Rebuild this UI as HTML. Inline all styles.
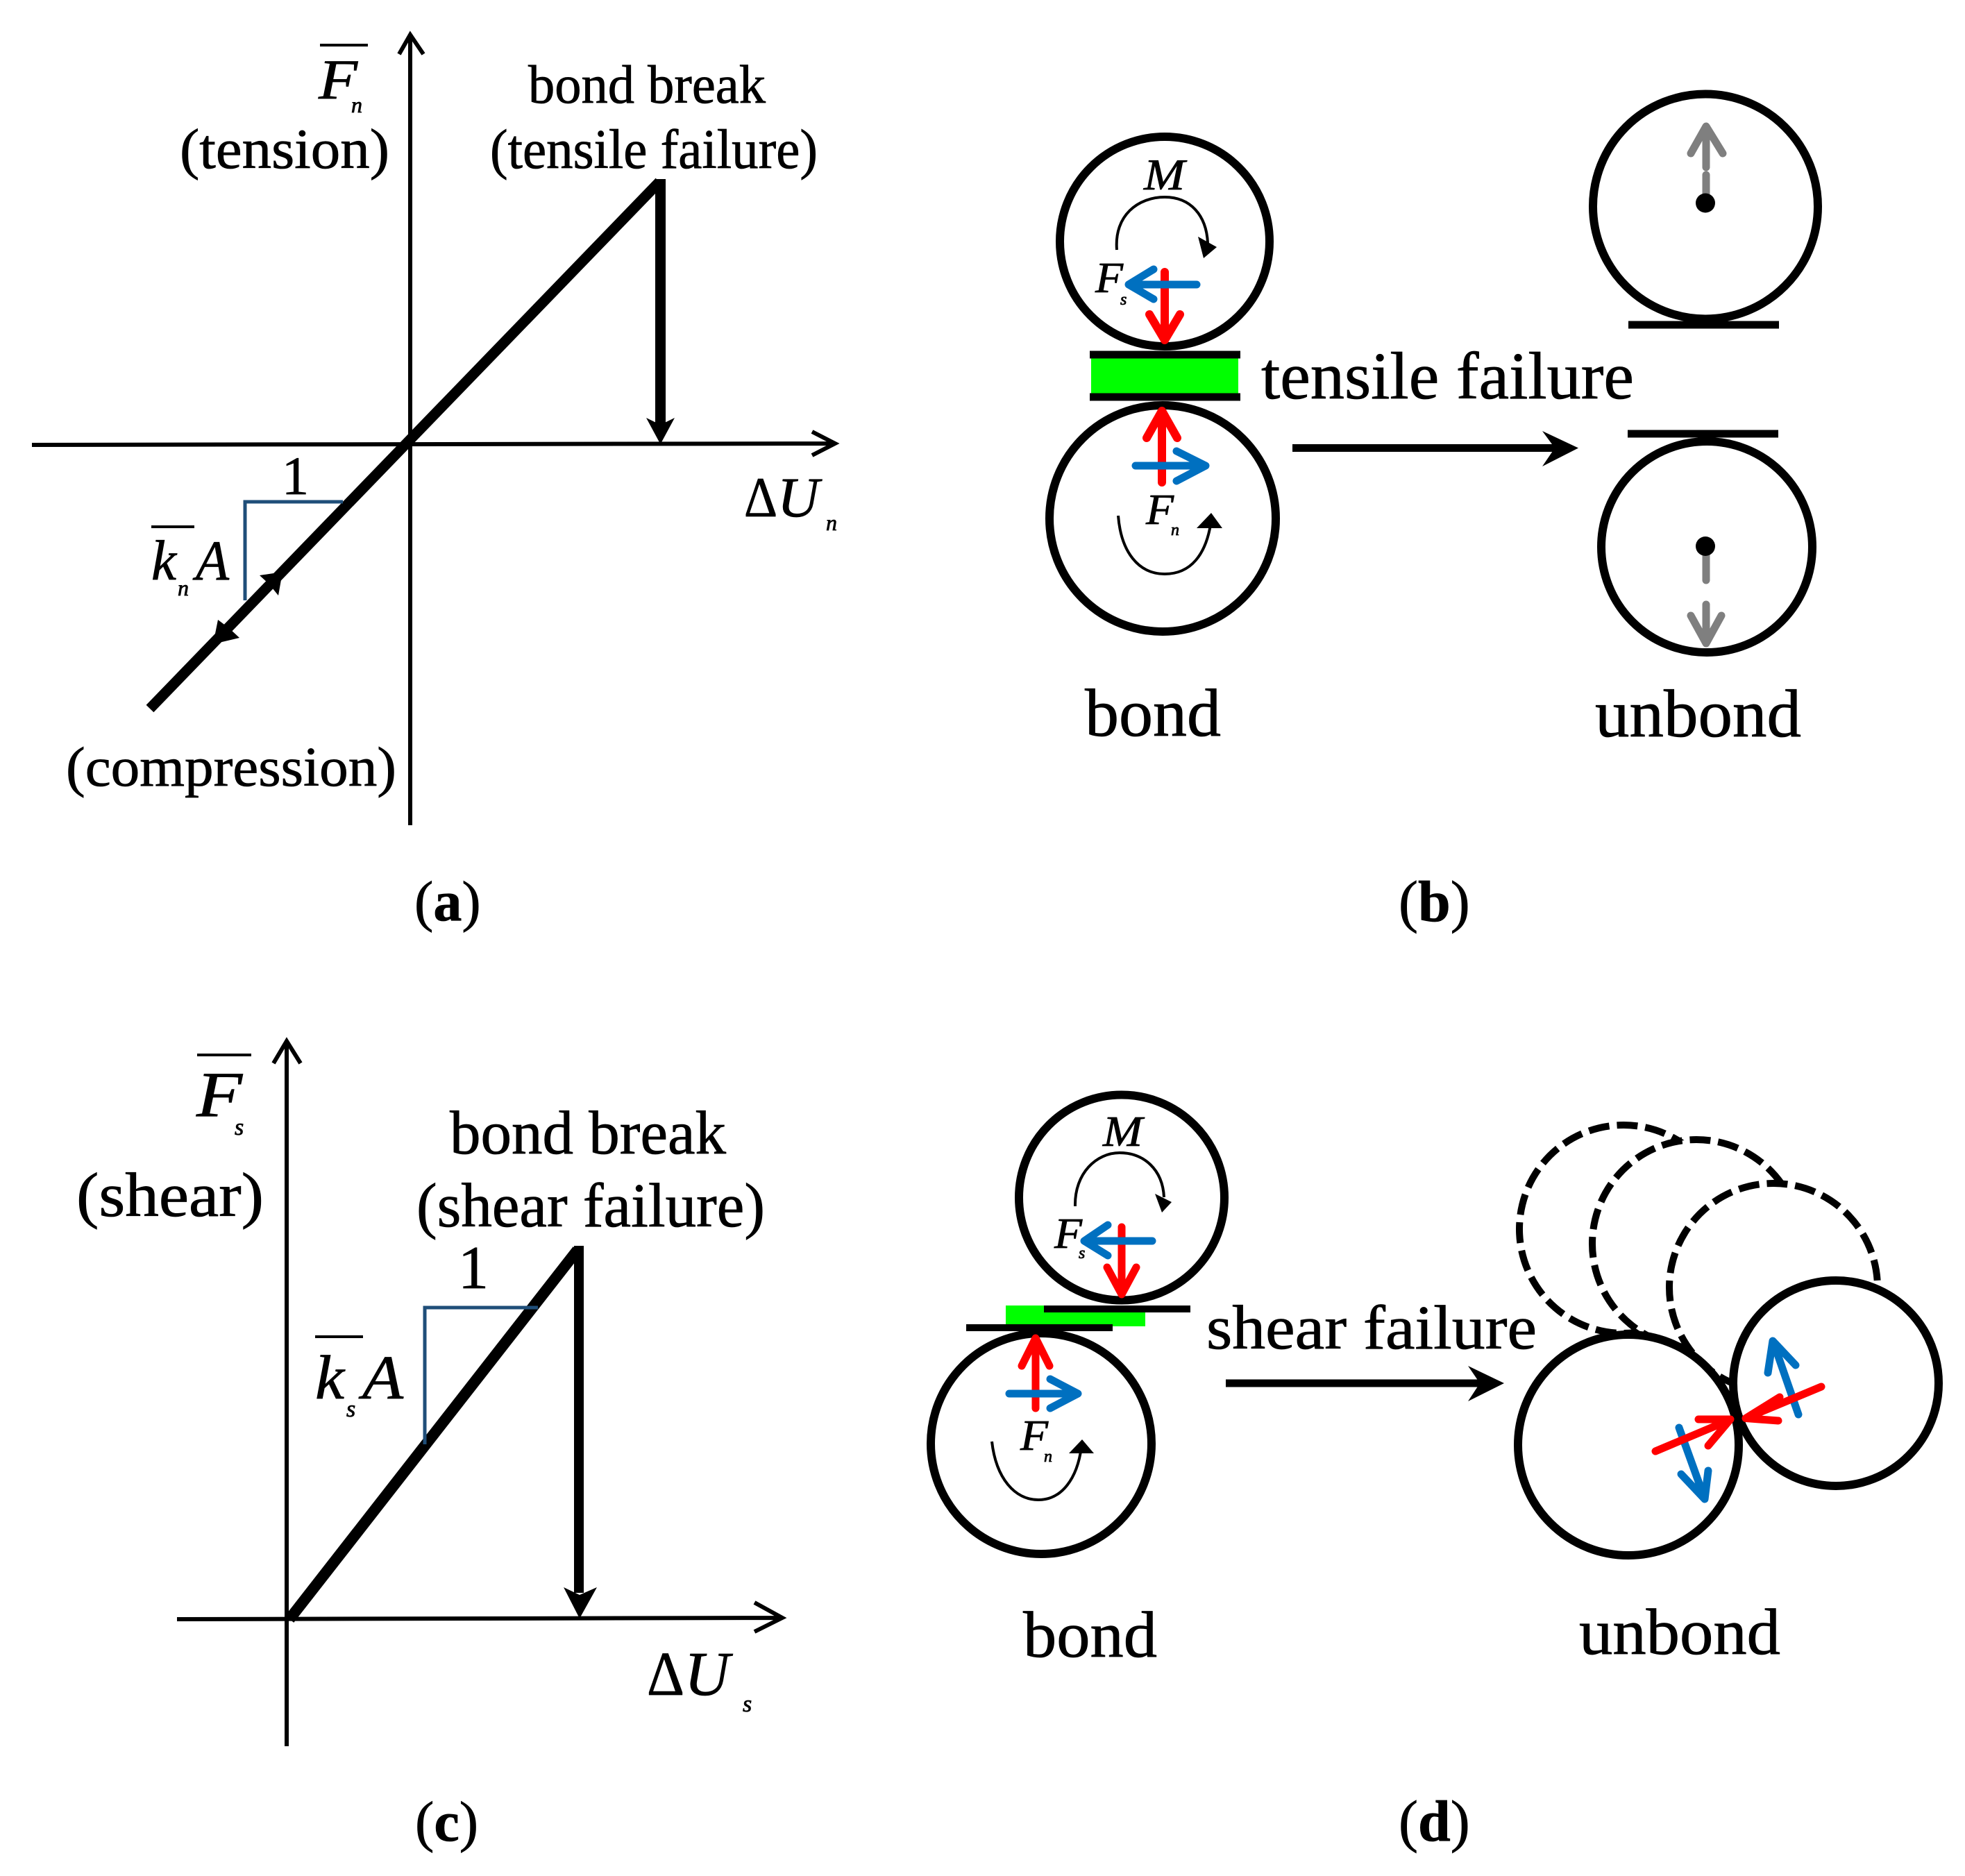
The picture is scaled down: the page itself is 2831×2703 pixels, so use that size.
<!DOCTYPE html>
<html><head><meta charset="utf-8"><style>
html,body{margin:0;padding:0;background:#fff}
svg{display:block}
text{font-family:"Liberation Serif",serif;fill:#000;stroke:#000;stroke-width:.8}
.i{font-style:italic}
</style></head><body>
<svg xmlns="http://www.w3.org/2000/svg" width="2831" height="2703" viewBox="0 0 2831 2703">
<rect width="2831" height="2703" fill="#fff"/>
<!-- (a) -->
<g fill="none" stroke="#000">
<path d="M591 1189V50M575 78L591 50L610 78" stroke-width="6"/>
<path d="M46 641L1202 639M1170 622L1203 639L1170 656" stroke-width="6"/>
<path d="M216 1021L950 262" stroke-width="15"/>
<path d="M951.5 258V615" stroke-width="15"/>
<path d="M353 865V723H494" stroke="#1f4e79" stroke-width="5"/>
</g>
<polygon points="951.5,640 931,602 951.5,612 972,602"/>
<polygon points="407,824 374,829 388,842 401,858"/>
<polygon points="307,928 314,893 330,905 345,919"/>
<path d="M461 65H530M218 759H280" stroke="#000" stroke-width="4"/>
<text class="i" x="459" y="142" font-size="82" textLength="56" lengthAdjust="spacingAndGlyphs">F</text>
<text class="i" x="506" y="162" font-size="32">n</text>
<text x="259" y="242" font-size="82" textLength="302" lengthAdjust="spacingAndGlyphs">(tension)</text>
<text x="761" y="148" font-size="78" textLength="342" lengthAdjust="spacingAndGlyphs">bond break</text>
<text x="706" y="242" font-size="80" textLength="472" lengthAdjust="spacingAndGlyphs">(tensile failure)</text>
<text x="95" y="1132" font-size="80" textLength="476" lengthAdjust="spacingAndGlyphs">(compression)</text>
<text x="406" y="712" font-size="78">1</text>
<text x="1072" y="744" font-size="82" textLength="48" lengthAdjust="spacingAndGlyphs">Δ</text>
<text class="i" x="1120" y="744" font-size="82" textLength="60" lengthAdjust="spacingAndGlyphs">U</text>
<text class="i" x="1190" y="764" font-size="32">n</text>
<text class="i" x="218" y="835" font-size="82" textLength="36" lengthAdjust="spacingAndGlyphs">k</text>
<text class="i" x="256" y="858" font-size="32">n</text>
<text class="i" x="282" y="835" font-size="82" textLength="48" lengthAdjust="spacingAndGlyphs">A</text>
<text x="597" y="1326" font-size="82">(<tspan font-weight="bold">a</tspan>)</text>

<!-- (b) -->
<g fill="none" stroke="#000" stroke-width="12">
<circle cx="1678" cy="348" r="151"/>
<circle cx="1675" cy="747" r="163"/>
<circle cx="2457" cy="297.5" r="162"/>
<circle cx="2459" cy="788" r="152"/>
</g>
<rect x="1572" y="515" width="212" height="53" fill="#00ff00"/>
<path d="M1570 511H1787M1570 572H1787M2346 468H2563M2345 625H2562" stroke="#000" stroke-width="11" fill="none"/>
<text x="1817" y="574" font-size="96" textLength="537" lengthAdjust="spacingAndGlyphs">tensile failure</text>
<text class="i" x="1648" y="273" font-size="64" textLength="59" lengthAdjust="spacingAndGlyphs">M</text>
<text class="i" x="1578" y="421" font-size="62" textLength="40" lengthAdjust="spacingAndGlyphs">F</text>
<text class="i" x="1614" y="439" font-size="24">s</text>
<text class="i" x="1651" y="755" font-size="62" textLength="40" lengthAdjust="spacingAndGlyphs">F</text>
<text class="i" x="1687" y="771" font-size="24">n</text>
<path d="M1609 360C1605 310 1640 284 1678 284C1715 284 1738 310 1740 350" fill="none" stroke="#000" stroke-width="4"/>
<polygon points="1726,341 1753,356 1734,372"/>
<path d="M1611 743C1615 795 1640 827 1678 827C1715 827 1738 800 1745 750" fill="none" stroke="#000" stroke-width="4"/>
<polygon points="1724,761 1761,761 1745,739"/>
<g fill="none" stroke-linecap="round" stroke-linejoin="round">
<path d="M1678 392V488M1656 453L1678 490L1700 453" stroke="#f00" stroke-width="12"/>
<path d="M1674 695V595M1652 631L1674 592L1696 631" stroke="#f00" stroke-width="12"/>
<path d="M1724 410H1628M1662 388L1626 410L1662 431" stroke="#0070c0" stroke-width="11"/>
<path d="M1636 671H1733M1695 650L1737 671L1695 693" stroke="#0070c0" stroke-width="11"/>
<path d="M2458 280V252M2458 241V186M2436 221L2458 182L2482 221" stroke="#7f7f7f" stroke-width="11"/>
<path d="M2458 795V836M2458 871V927M2436 887L2458 927L2480 887" stroke="#7f7f7f" stroke-width="11"/>
</g>
<circle cx="2457" cy="292.5" r="14"/>
<circle cx="2457" cy="787" r="14"/>
<path d="M1862 645.5H2245" stroke="#000" stroke-width="11"/>
<polygon points="2274,645.5 2222,621 2240,645.5 2222,672"/>
<text x="1563" y="1060" font-size="98" textLength="196" lengthAdjust="spacingAndGlyphs">bond</text>
<text x="2298" y="1061" font-size="98" textLength="297" lengthAdjust="spacingAndGlyphs">unbond</text>
<text x="2015" y="1327" font-size="84">(<tspan font-weight="bold">b</tspan>)</text>

<!-- (c) -->
<g fill="none" stroke="#000">
<path d="M413 2516V1502M394 1532L413 1500L433 1532" stroke-width="6"/>
<path d="M255 2333L1124 2331M1087 2309L1127 2331L1087 2351" stroke-width="6"/>
<path d="M417 2333L832 1801" stroke-width="16"/>
<path d="M834 1795V2295" stroke-width="14"/>
<path d="M612 2081V1884H775" stroke="#1f4e79" stroke-width="5"/>
</g>
<polygon points="835,2332 812,2287 835,2298 860,2287"/>
<path d="M284 1520H362M454 1926H523" stroke="#000" stroke-width="4"/>
<text class="i" x="283" y="1608" font-size="92" textLength="66" lengthAdjust="spacingAndGlyphs">F</text>
<text class="i" x="338" y="1635" font-size="34">s</text>
<text x="110" y="1752" font-size="90" textLength="270" lengthAdjust="spacingAndGlyphs">(shear)</text>
<text x="648" y="1662" font-size="89" textLength="398" lengthAdjust="spacingAndGlyphs">bond break</text>
<text x="600" y="1767" font-size="90" textLength="502" lengthAdjust="spacingAndGlyphs">(shear failure)</text>
<text x="660" y="1856" font-size="88">1</text>
<text class="i" x="454" y="2015" font-size="90" textLength="42" lengthAdjust="spacingAndGlyphs">k</text>
<text class="i" x="499" y="2041" font-size="34">s</text>
<text class="i" x="522" y="2015" font-size="90" textLength="59" lengthAdjust="spacingAndGlyphs">A</text>
<text x="932" y="2442" font-size="90" textLength="54" lengthAdjust="spacingAndGlyphs">Δ</text>
<text class="i" x="986" y="2442" font-size="90" textLength="65" lengthAdjust="spacingAndGlyphs">U</text>
<text class="i" x="1070" y="2466" font-size="34">s</text>
<text x="598" y="2652" font-size="82">(<tspan font-weight="bold">c</tspan>)</text>

<!-- (d) -->
<g fill="none" stroke="#000" stroke-width="12">
<circle cx="1616" cy="1725.5" r="148"/>
<circle cx="1500" cy="2080" r="159"/>
</g>
<rect x="1449" y="1881" width="201" height="30" fill="#0f0"/>
<path d="M1504 1886H1715M1392 1913H1603" stroke="#000" stroke-width="10" fill="none"/>
<text class="i" x="1589" y="1651" font-size="62" textLength="57" lengthAdjust="spacingAndGlyphs">M</text>
<text class="i" x="1519" y="1798" font-size="62" textLength="40" lengthAdjust="spacingAndGlyphs">F</text>
<text class="i" x="1554" y="1813" font-size="24">s</text>
<text class="i" x="1470" y="2089" font-size="62" textLength="40" lengthAdjust="spacingAndGlyphs">F</text>
<text class="i" x="1504" y="2106" font-size="24">n</text>
<path d="M1549 1738C1548 1690 1580 1661 1613 1661C1648 1661 1675 1685 1677 1725" fill="none" stroke="#000" stroke-width="4"/>
<polygon points="1664,1720 1688,1732 1674,1747"/>
<path d="M1429 2077C1435 2130 1462 2161 1496 2161C1530 2161 1552 2130 1558 2085" fill="none" stroke="#000" stroke-width="4"/>
<polygon points="1540,2094 1576,2094 1559,2074"/>
<g fill="none" stroke-linecap="round" stroke-linejoin="round">
<path d="M1616 1768V1862M1595 1826L1616 1865L1637 1826" stroke="#f00" stroke-width="11"/>
<path d="M1492 2029V1930M1472 1968L1492 1928L1512 1968" stroke="#f00" stroke-width="11"/>
<path d="M1660 1788H1566M1596 1765L1562 1788L1596 1809" stroke="#0070c0" stroke-width="11"/>
<path d="M1454 2008H1552M1513 1987L1553 2008L1513 2029" stroke="#0070c0" stroke-width="11"/>
</g>
<text x="1738" y="1943" font-size="90" textLength="476" lengthAdjust="spacingAndGlyphs">shear failure</text>
<path d="M1766 1993H2145" stroke="#000" stroke-width="11"/>
<polygon points="2167,1993 2115,1968 2132,1993 2115,2019"/>
<g fill="#fff" stroke="#000" stroke-width="10" stroke-dasharray="30 11">
<circle cx="2339" cy="1771" r="150"/>
<circle cx="2444" cy="1792" r="150"/>
<circle cx="2555" cy="1855" r="150"/>
</g>
<g fill="#fff" stroke="#000" stroke-width="12">
<circle cx="2346" cy="2082" r="159"/>
<circle cx="2645" cy="1993" r="148"/>
</g>
<g fill="none" stroke-linecap="round" stroke-linejoin="round" transform="translate(-3 -1)">
<path d="M2422 2058L2457 2155M2425 2125L2459 2161L2464 2120" stroke="#0070c0" stroke-width="11"/>
<path d="M2594 2039L2559 1938M2550 1979L2557 1933L2590 1968" stroke="#0070c0" stroke-width="11"/>
<path d="M2388 2092L2490 2049M2450 2046L2496 2046L2464 2084" stroke="#f00" stroke-width="11"/>
<path d="M2627 1999L2524 2042M2567 2014L2518 2044.5L2565 2048" stroke="#f00" stroke-width="11"/>
</g>
<text x="1474" y="2387" font-size="94" textLength="193" lengthAdjust="spacingAndGlyphs">bond</text>
<text x="2275" y="2383" font-size="94" textLength="290" lengthAdjust="spacingAndGlyphs">unbond</text>
<text x="2015" y="2652" font-size="84">(<tspan font-weight="bold">d</tspan>)</text>
</svg>
</body></html>
